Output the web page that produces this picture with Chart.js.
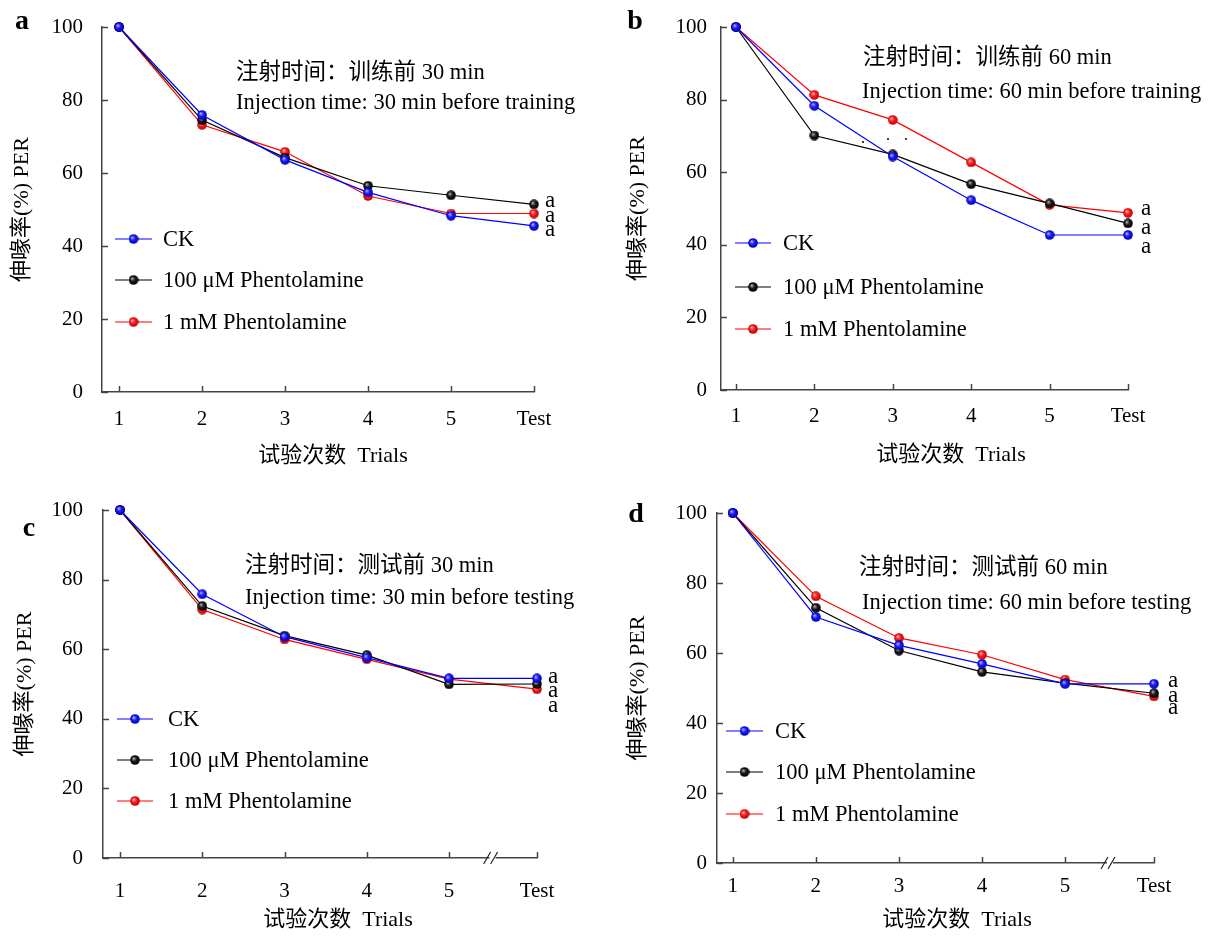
<!DOCTYPE html>
<html>
<head>
<meta charset="utf-8">
<script src="https://cdn.jsdelivr.net/npm/chart.js@4.4.1/dist/chart.umd.min.js"></script>
<style>
html, body { margin: 0; background: #fff; }
#wrap { position: relative; width: 1210px; height: 936px; }
#wrap canvas { position: absolute; left: 0; top: 0; }
</style>
</head>
<body>
<div id="wrap">
  <canvas id="chartA" width="1210" height="936"></canvas>
  <canvas id="chartB" width="1210" height="936"></canvas>
  <canvas id="chartC" width="1210" height="936"></canvas>
  <canvas id="chartD" width="1210" height="936"></canvas>
</div>
<script>
// trials on the x axis; c and d have a break before "Test"
const trialLabels = ["1", "2", "3", "4", "5", "Test"];
const trialPos = [0, 1, 2, 3, 4, 5];
const trialPosBreak = [0, 1, 2, 3, 4, 5.07];
const yTicks = [0, 20, 40, 60, 80, 100];

const seriesNames = ["CK", "100 μM Phentolamine", "1 mM Phentolamine"];
const sigLetters = ["a", "a", "a"];

// a: 30 min before training
const ckA   = [100, 75.9, 63.6, 54.7, 48.3, 45.5];
const lowA  = [100, 74.5, 64.2, 56.5, 53.9, 51.4];
const highA = [100, 73.2, 65.8, 53.7, 48.9, 48.9];
// b: 60 min before training
const ckB   = [100, 78.3, 64.3, 52.3, 42.7, 42.7];
const lowB  = [100, 70.1, 64.9, 56.7, 51.4, 45.9];
const highB = [100, 81.3, 74.4, 62.7, 51.0, 48.8];
// c: 30 min before testing
const ckC   = [100, 75.8, 63.6, 57.6, 51.6, 51.6];
const lowC  = [100, 72.4, 63.9, 58.3, 49.9, 50.0];
const highC = [100, 71.4, 62.8, 57.1, 51.4, 48.5];
// d: 60 min before testing
const ckD   = [100, 70.3, 62.2, 56.9, 51.2, 51.2];
const lowD  = [100, 72.9, 60.7, 54.6, 51.4, 48.5];
const highD = [100, 76.2, 64.3, 59.5, 52.4, 47.6];

const yTitle = "伸喙率(%) PER";
const xTitle = "试验次数  Trials";
const notesA = ["注射时间：训练前 30 min", "Injection time: 30 min before training"];
const notesB = ["注射时间：训练前 60 min", "Injection time: 60 min before training"];
const notesC = ["注射时间：测试前 30 min", "Injection time: 30 min before testing"];
const notesD = ["注射时间：测试前 60 min", "Injection time: 60 min before testing"];

const serif = "'Liberation Serif', 'Times New Roman', 'Noto Sans CJK SC', serif";
const axisColor = "#444";
const lineColors = ["#0000ff", "#000000", "#ff0000"];
const ballShades = [
    ["#b0b0ff", "#1a1aff", "#0000a8"],
    ["#b0b0b0", "#1a1a1a", "#000000"],
    ["#ffb0b0", "#ff1a1a", "#b00000"]
];

function ballImage(shades) {
    const c = document.createElement("canvas");
    c.width = 10;
    c.height = 10;
    const g = c.getContext("2d");
    const grad = g.createRadialGradient(3.6, 3.4, 0.3, 5, 5, 5);
    grad.addColorStop(0, shades[0]);
    grad.addColorStop(0.45, shades[1]);
    grad.addColorStop(1, shades[2]);
    g.fillStyle = grad;
    g.beginPath();
    g.arc(5, 5, 4.8, 0, Math.PI * 2);
    g.fill();
    return c;
}
const balls = ballShades.map(ballImage);

const panelDecor = {
    id: "panelDecor",
    afterDraw(chart, args, o) {
        const { ctx, chartArea: area, scales: { x, y } } = chart;
        ctx.save();

        // inward tick marks
        ctx.strokeStyle = axisColor;
        ctx.lineWidth = 1.5;
        ctx.beginPath();
        yTicks.forEach(v => {
            const py = Math.round(y.getPixelForValue(v)) + 0.5;
            ctx.moveTo(area.left, py);
            ctx.lineTo(area.left + 6, py);
        });
        o.pos.forEach(v => {
            const px = Math.round(x.getPixelForValue(v)) + 0.5;
            ctx.moveTo(px, area.bottom);
            ctx.lineTo(px, area.bottom - 6);
        });
        ctx.stroke();

        // axis break between "5" and "Test"
        if (o.breakAt !== null) {
            const bx = x.getPixelForValue(o.breakAt);
            const by = area.bottom;
            ctx.fillStyle = "#fff";
            ctx.fillRect(bx - 3, by - 3, 6, 6);
            ctx.strokeStyle = "#222";
            ctx.lineWidth = 1.2;
            ctx.beginPath();
            ctx.moveTo(bx - 9, by + 6); ctx.lineTo(bx - 2, by - 6);
            ctx.moveTo(bx - 2, by + 6); ctx.lineTo(bx + 5, by - 6);
            ctx.stroke();
        }

        ctx.fillStyle = "#000";
        ctx.textBaseline = "middle";

        // x title
        ctx.textAlign = "center";
        ctx.font = `22px ${serif}`;
        ctx.fillText(xTitle, o.xTitleAt[0], o.xTitleAt[1]);

        // panel letter
        ctx.font = `bold 28px ${serif}`;
        ctx.fillText(o.letter, o.letterAt[0], o.letterAt[1]);

        // injection note
        ctx.textAlign = "left";
        ctx.font = `22.5px ${serif}`;
        o.notes.forEach((t, i) => ctx.fillText(t, o.noteAt[i][0], o.noteAt[i][1]));

        // significance letters
        ctx.font = `23px ${serif}`;
        const sx = x.getPixelForValue(o.pos[o.pos.length - 1]) + o.sigDx;
        o.sigValues.forEach((v, i) => ctx.fillText(sigLetters[i], sx, y.getPixelForValue(v)));

        // legend
        const lg = o.legend;
        seriesNames.forEach((name, i) => {
            const ly = lg.ys[i];
            ctx.strokeStyle = lineColors[i];
            ctx.lineWidth = 1.2;
            ctx.beginPath();
            ctx.moveTo(lg.x0, ly);
            ctx.lineTo(lg.x1, ly);
            ctx.stroke();
            ctx.drawImage(balls[i], (lg.x0 + lg.x1) / 2 - 5, ly - 5);
            ctx.fillStyle = "#000";
            ctx.font = `22.5px ${serif}`;
            ctx.fillText(name, lg.textX, ly + 1);
        });

        // stray dots
        (o.dots || []).forEach(d => {
            ctx.beginPath();
            ctx.arc(d[0], d[1], 1, 0, Math.PI * 2);
            ctx.fill();
        });

        ctx.restore();
    }
};

function makePanel(p) {
    const datasets = p.series.map((vals, i) => ({
        label: seriesNames[i],
        data: vals.map((v, k) => ({ x: p.pos[k], y: v })),
        borderColor: lineColors[i],
        backgroundColor: lineColors[i],
        borderWidth: 1.2,
        pointStyle: balls[i],
        pointRadius: 5,
        tension: 0,
        clip: false
    }));
    const a = p.area;
    return new Chart(document.getElementById(p.id), {
        type: "line",
        data: { datasets },
        options: {
            responsive: false,
            animation: false,
            layout: {
                padding: { left: p.yTitleLeft, top: a.t, right: 1210 - a.r, bottom: 936 - a.b - 40 }
            },
            plugins: {
                legend: { display: false },
                tooltip: { enabled: false },
                panelDecor: p
            },
            scales: {
                x: {
                    type: "linear",
                    min: p.xMin,
                    max: p.pos[p.pos.length - 1],
                    afterBuildTicks(scale) {
                        scale.ticks = p.pos.map(v => ({ value: v }));
                    },
                    afterFit(scale) {
                        scale.height = 40;
                        scale.paddingLeft = 0;
                        scale.paddingRight = 0;
                    },
                    grid: { drawOnChartArea: false, drawTicks: false, color: axisColor },
                    border: { display: true, color: axisColor, width: 1.5 },
                    ticks: {
                        autoSkip: false,
                        maxRotation: 0,
                        padding: p.xTickPad,
                        color: "#000",
                        font: { family: serif, size: 21 },
                        callback: (v, i) => trialLabels[i]
                    }
                },
                y: {
                    min: 0,
                    max: 100,
                    afterFit(scale) {
                        scale.width = a.l - p.yTitleLeft;
                        scale.paddingTop = 0;
                        scale.paddingBottom = 0;
                    },
                    grid: { drawOnChartArea: false, drawTicks: false, color: axisColor },
                    border: { display: true, color: axisColor, width: 1.5 },
                    ticks: {
                        stepSize: 20,
                        padding: p.yTickPad,
                        color: "#000",
                        font: { family: serif, size: 21 }
                    },
                    title: {
                        display: true,
                        text: yTitle,
                        color: "#000",
                        font: { family: serif, size: 22 },
                        padding: { top: 4, bottom: 4 }
                    }
                }
            }
        },
        plugins: [panelDecor]
    });
}

makePanel({
    id: "chartA", letter: "a", letterAt: [22, 22],
    series: [ckA, lowA, highA], pos: trialPos, xMin: -0.205, breakAt: null,
    area: { l: 102, t: 27, r: 534, b: 392 },
    yTitleLeft: 5, yTickPad: 19, xTickPad: 15, xTitleAt: [333, 456],
    notes: notesA, noteAt: [[236, 73], [236, 103]],
    sigDx: 11, sigValues: [52.4, 48.3, 44.4],
    legend: { x0: 115, x1: 152, textX: 163, ys: [239, 280, 322] }
});

makePanel({
    id: "chartB", letter: "b", letterAt: [635, 22],
    series: [ckB, lowB, highB], pos: trialPos, xMin: -0.19, breakAt: null,
    area: { l: 721, t: 27, r: 1128, b: 390 },
    yTitleLeft: 621, yTickPad: 14, xTickPad: 14, xTitleAt: [951, 455],
    notes: notesB, noteAt: [[863, 58], [862, 92]],
    sigDx: 13, sigValues: [49.9, 44.6, 39.4],
    legend: { x0: 735, x1: 771, textX: 783, ys: [243, 287, 329] },
    dots: [[863, 142], [888, 139], [906, 139]]
});

makePanel({
    id: "chartC", letter: "c", letterAt: [29, 529],
    series: [ckC, lowC, highC], pos: trialPosBreak, xMin: -0.207, breakAt: 4.53,
    area: { l: 103, t: 510, r: 537, b: 858 },
    yTitleLeft: 8, yTickPad: 20, xTickPad: 21, xTitleAt: [338, 920],
    notes: notesC, noteAt: [[245, 566], [245, 598]],
    sigDx: 11, sigValues: [52.1, 48.0, 43.6],
    legend: { x0: 117, x1: 153, textX: 168, ys: [719, 760, 801] }
});

makePanel({
    id: "chartD", letter: "d", letterAt: [636, 515],
    series: [ckD, lowD, highD], pos: trialPosBreak, xMin: -0.19, breakAt: 4.54,
    area: { l: 717, t: 513, r: 1154, b: 863 },
    yTitleLeft: 621, yTickPad: 10, xTickPad: 11, xTitleAt: [957, 920],
    notes: notesD, noteAt: [[859, 568], [862, 603]],
    sigDx: 14, sigValues: [51.9, 47.8, 44.3],
    legend: { x0: 726, x1: 763, textX: 775, ys: [731, 772, 814] }
});
</script>
</body>
</html>
